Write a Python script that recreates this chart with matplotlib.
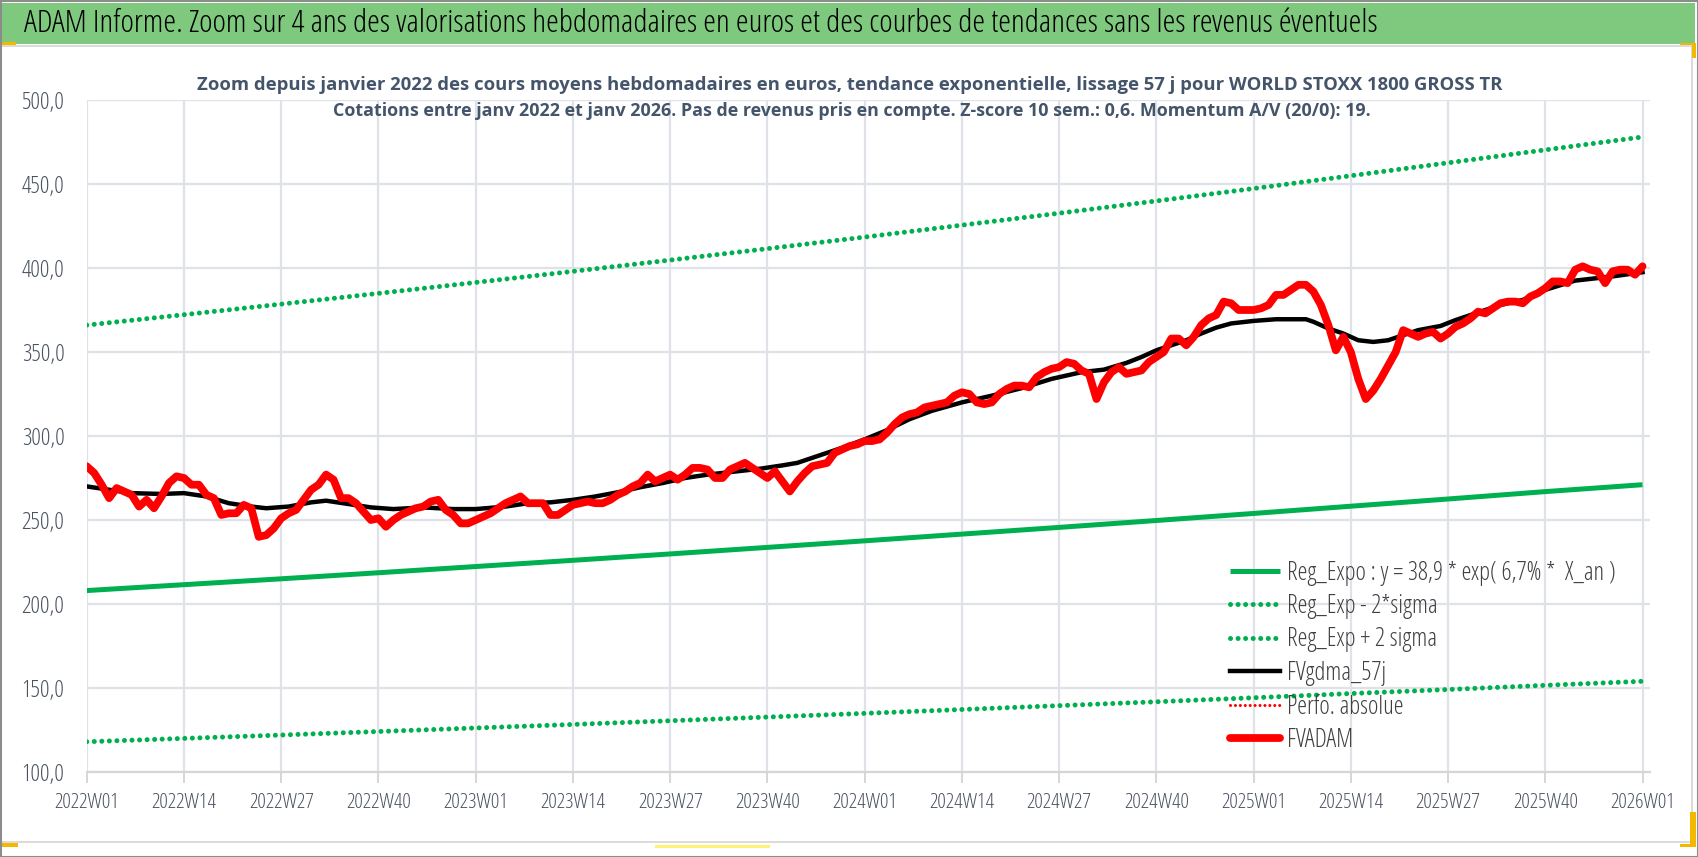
import matplotlib
matplotlib.use("Agg")
import matplotlib.pyplot as plt
from matplotlib import font_manager
from matplotlib.patches import Rectangle

# ---------------------------------------------------------------- data
# week index 0 = 2022W01 ... 208 = 2026W01
tick_weeks = [0, 13, 26, 39, 52, 65, 78, 91, 104, 117, 130, 143, 156, 169, 182, 195, 208]
tick_labels = ["2022W01", "2022W14", "2022W27", "2022W40",
               "2023W01", "2023W14", "2023W27", "2023W40",
               "2024W01", "2024W14", "2024W27", "2024W40",
               "2025W01", "2025W14", "2025W27", "2025W40", "2026W01"]
ytick_vals = [100, 150, 200, 250, 300, 350, 400, 450, 500]
ytick_labels = ["100,0", "150,0", "200,0", "250,0", "300,0", "350,0", "400,0", "450,0", "500,0"]

# trend curves read at each tick week
reg_expo = [208, 211.5, 215, 218.6, 222.3, 226, 229.8, 233.7, 237.6,
            241.6, 245.6, 249.7, 253.9, 258.2, 262.5, 266.9, 271]
reg_minus = [118, 120, 122, 124.1, 126.2, 128.3, 130.5, 132.7, 134.9,
             137.2, 139.5, 141.8, 144.2, 146.7, 149.1, 151.6, 154]
reg_plus = [366, 372.2, 378.5, 384.9, 391.4, 398, 404.7, 411.5, 418.4,
            425.5, 432.6, 439.9, 447.3, 454.9, 462.6, 470.3, 478]

# FVgdma_57j (smoothed)
gdma_week = [0, 3, 6, 10, 13, 16, 19, 22, 24, 27, 30, 32, 35, 38, 41, 45, 49, 52,
             56, 59, 62, 65, 68, 71, 74, 77, 80, 83, 87, 90, 93, 95, 98, 101, 104,
             107, 110, 113, 117, 121, 125, 129, 133, 136, 139, 141, 143, 145, 147,
             149, 151, 153, 156, 159, 163, 164, 166, 168, 170, 172, 174, 176, 178,
             181, 183, 186, 189, 192, 195, 199, 204, 208]
gdma_val = [270, 268, 266, 265.5, 266, 264, 260, 258, 257, 258, 260.5, 261.5, 259.5,
            257.5, 256.5, 257.5, 256.5, 256.5, 258, 260, 260.5, 262, 264, 266.5,
            269.5, 272, 275, 277, 279, 280.5, 282.5, 284, 288.5, 293, 298, 303.5,
            310, 315, 320, 324, 328.5, 334, 338, 339.5, 343.5, 347, 351, 354, 357,
            361, 364.5, 367, 368.5, 369.5, 369.5, 368, 364, 361, 357, 356, 357,
            360, 363, 365.5, 369, 373.5, 378, 381, 387, 392.5, 395, 397.5]

# FVADAM weekly
adam_val = [282, 278, 271, 263, 269, 267, 265, 258, 262, 257,
            264, 272, 276, 275, 271, 271, 265, 263, 253, 254,
            254, 259, 257, 240, 241, 245, 251, 254, 256, 262,
            268, 271, 277, 274, 263, 263, 260, 255, 250, 251,
            246, 250, 253, 255, 257, 258, 261, 262, 256, 253,
            248, 248, 250, 252, 254, 257, 260, 262, 264, 260,
            260, 260, 253, 253, 256, 259, 260, 261, 260, 260,
            262, 265, 267, 270, 272, 277, 273, 275, 277, 274,
            277, 281, 281, 280, 275, 275, 280, 282, 284, 281,
            278, 275, 279, 273, 267, 273, 278, 282, 283, 284,
            290, 292, 294, 295, 297, 297, 298, 302, 307, 311,
            313, 314, 317, 318, 319, 320, 324, 326, 325, 320,
            319, 320, 325, 328, 330, 330, 329, 335, 338, 340,
            341, 344, 343, 339, 337, 322, 332, 338, 341, 337,
            338, 339, 344, 347, 350, 358, 358, 354, 359, 366,
            370, 372, 380, 379, 375, 375, 375, 376, 378, 384,
            384, 387, 390, 390, 386, 378, 366, 351, 359, 350,
            334, 322, 327, 334, 342, 350, 363, 361, 359, 361,
            362, 358, 361, 365, 367, 370, 374, 373, 376, 379,
            380, 380, 379, 383, 385, 388, 392, 392, 391, 399,
            401, 399, 398, 391, 398, 399, 399, 396, 401]
adam_week = list(range(len(adam_val)))

title = ("ADAM Informe. Zoom sur 4 ans des valorisations hebdomadaires en euros "
         "et des courbes de tendances sans les revenus éventuels")
sub1 = ("Zoom depuis janvier 2022 des cours moyens hebdomadaires en euros, tendance "
        "exponentielle, lissage 57 j pour WORLD STOXX 1800 GROSS TR")
sub2 = ("Cotations entre janv 2022 et janv 2026. Pas de revenus pris en compte. "
        "Z-score 10 sem.: 0,6. Momentum A/V (20/0): 19.")


# look for a narrow / condensed face first (the original is Calibri-like)
def pick_font():
    wanted = ["Liberation Sans Narrow", "Noto Sans", "Open Sans", "DejaVu Sans", "Roboto"]
    narrow = ("condensed", "semi-condensed", "extra-condensed")
    fl = font_manager.fontManager.ttflist
    for fam in wanted:
        for f in fl:
            if f.name == fam and (f.stretch in narrow or "Narrow" in f.name):
                return fam, f.stretch
        for f in fl:
            if f.name in (fam + " Condensed", fam + " SemiCondensed", fam + " Narrow"):
                return f.name, "normal"
    return "Liberation Sans", "normal"


FONT, STRETCH = pick_font()
plt.rcParams["font.family"] = [FONT, "DejaVu Sans"]
plt.rcParams["font.stretch"] = STRETCH

W, H = 1698, 857
fig = plt.figure(figsize=(W / 100, H / 100), dpi=100)


def box(x0, y0, x1, y1, **kw):
    # pixel coords, y from top
    r = Rectangle((x0 / W, 1 - y1 / H), (x1 - x0) / W, (y1 - y0) / H,
                  transform=fig.transFigure, **kw)
    fig.add_artist(r)


orange = "#F5B800"
box(1, 46, 1692, 842, facecolor="white", edgecolor="#D4D4D4", lw=1.2, zorder=0)
box(2, 3, 1695, 44, facecolor="#7FC97F", edgecolor="none", zorder=1)
box(0, 42, 16, 45, facecolor=orange, edgecolor="none", zorder=2)
box(1680, 43, 1696, 45, facecolor=orange, edgecolor="none", zorder=2)
box(1692, 43, 1696, 58, facecolor=orange, edgecolor="none", zorder=2)
box(1690, 812, 1696, 847, facecolor=orange, edgecolor="none", zorder=2)
box(1680, 844, 1696, 847, facecolor=orange, edgecolor="none", zorder=2)
box(0, 843, 18, 847, facecolor=orange, edgecolor="none", zorder=2)
box(655, 845, 770, 848, facecolor="#FFF176", edgecolor="none", zorder=2)
box(0.5, 0.5, W - 0.5, H - 0.5, facecolor="none", edgecolor="#8C8C8C", lw=1.5, zorder=3)

t_title = fig.text(24 / W, 1 - 24 / H, title, ha="left", va="center", fontsize=19.5,
                   color="black")
t_sub1 = fig.text(850 / W, 1 - 85 / H, sub1, ha="center", va="center", fontsize=14,
                  fontweight="bold", color="#44546A")
t_sub2 = fig.text(852 / W, 1 - 111 / H, sub2, ha="center", va="center", fontsize=14,
                  fontweight="bold", color="#44546A")

ax = fig.add_axes([86.7 / W, 1 - 772 / H, (1650 - 86.7) / W, (772 - 100) / H])
ax.set_facecolor("none")

green = "#00B050"
dots = (0, (0.01, 1.5))
ax.plot(tick_weeks, reg_expo, color=green, lw=3.6, solid_capstyle="butt",
        label="Reg_Expo : y = 38,9 * exp( 6,7% *  X_an )")
ax.plot(tick_weeks, reg_minus, color=green, lw=3.6, ls=dots, dash_capstyle="round",
        label="Reg_Exp - 2*sigma")
ax.plot(tick_weeks, reg_plus, color=green, lw=3.6, ls=dots, dash_capstyle="round",
        label="Reg_Exp + 2 sigma")
ax.plot(gdma_week, gdma_val, color="black", lw=3.2, solid_joinstyle="round",
        label="FVgdma_57j")
ax.plot([], [], color="red", lw=2.2, ls=(0, (0.01, 1.6)), dash_capstyle="round",
        label="Perfo. absolue")
ax.plot(adam_week, adam_val, color="red", lw=5.6, solid_joinstyle="round",
        solid_capstyle="round", label="FVADAM")

ax.set_xlim(0, 209)
ax.set_ylim(100, 500)
ax.set_xticks(tick_weeks)
ax.set_xticklabels(tick_labels)
ax.set_yticks(ytick_vals)
ax.set_yticklabels(ytick_labels)
ax.grid(True, color="#DFE3E9", lw=1.6)
ax.set_axisbelow(True)
for s in ["top", "right", "left"]:
    ax.spines[s].set_visible(False)
ax.spines["bottom"].set_color("#D6D6D6")
ax.spines["bottom"].set_linewidth(1.6)
ax.tick_params(axis="x", length=8, width=1.4, color="#D6D6D6", pad=7,
               labelsize=13.3, labelcolor="#4A5260")
ax.tick_params(axis="y", length=0, pad=16, labelsize=13.3, labelcolor="#4A5260")

# fit text sizes to the widths measured on the original (pixels)
fig.canvas.draw()
rend = fig.canvas.get_renderer()


def scale_for(t, target):
    return target / t.get_window_extent(rend).width


for t, target in [(t_title, 1357), (t_sub1, 1305), (t_sub2, 1043)]:
    t.set_fontsize(t.get_fontsize() * scale_for(t, target))

xs = 13.3 * scale_for(ax.get_xticklabels()[0], 65)
ys = 13.3 * scale_for(ax.get_yticklabels()[-1], 43)
ax.tick_params(axis="x", labelsize=xs)
ax.tick_params(axis="y", labelsize=ys)

leg_kw = dict(loc="upper left", bbox_transform=fig.transFigure, frameon=False,
              handletextpad=0.3, borderpad=0, borderaxespad=0, labelcolor="#404040")
leg = ax.legend(bbox_to_anchor=(1230 / W, 1 - 558 / H), fontsize=14,
                handlelength=2.6, labelspacing=0.72, **leg_kw)
fig.canvas.draw()
lfs = 14 * scale_for(leg.get_texts()[0], 328)
fs_px = lfs * 100 / 72
leg.remove()
leg = ax.legend(bbox_to_anchor=(1230 / W, 1 - 558 / H), fontsize=lfs,
                handlelength=50 / fs_px, labelspacing=0.72, **leg_kw)
fig.canvas.draw()
tx = leg.get_texts()
y0 = tx[0].get_window_extent(rend)
y5 = tx[-1].get_window_extent(rend)
pitch = ((y0.y0 + y0.y1) - (y5.y0 + y5.y1)) / 2 / 5
lsp = 0.72 + (33.5 - pitch) / fs_px
leg.remove()
leg = ax.legend(bbox_to_anchor=(1230 / W, 1 - 558 / H), fontsize=lfs,
                handlelength=50 / fs_px, labelspacing=lsp, **leg_kw)
fig.canvas.draw()
b = leg.get_texts()[0].get_window_extent(rend)
shift = (H - 573) - (b.y0 + b.y1) / 2
leg.set_bbox_to_anchor((1230 / W, 1 - 558 / H + shift / H), transform=fig.transFigure)

fig.savefig("out.png", dpi=100)
